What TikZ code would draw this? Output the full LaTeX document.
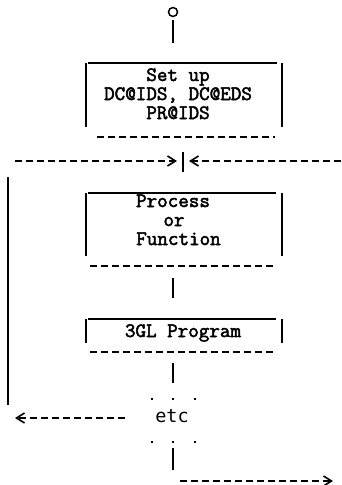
\documentclass[tikz,border=0pt]{standalone}
\usepackage{fontspec}
\newfontfamily\boxfont{Latin Modern Mono}[FakeBold=2.4]
\newfontfamily\etcfont{DejaVu Sans Mono}
\usetikzlibrary{arrows.meta}

\begin{document}
\begin{tikzpicture}[x=1pt,y=-1pt,
  bar/.style={line width=1.6pt},
  rule/.style={line width=1.5pt},
  dashrule/.style={line width=1.6pt, dash pattern=on 7pt off 4pt},
  flow/.style={dashrule, -{Straight Barb[length=8pt,width=10pt]}},
  txt/.style={font=\boxfont\fontsize{20.5}{20.5}\selectfont, anchor=base, inner sep=0pt},
  etctxt/.style={font=\etcfont\fontsize{18.5}{18.5}\selectfont, anchor=base, inner sep=0pt},
  dot/.style={fill, inner sep=0pt, minimum size=2.4pt, shape=rectangle}
]
\useasboundingbox (0,0) rectangle (341,485);

% entry point
\node[circle, draw, line width=1.5pt, minimum size=9pt, inner sep=0pt] (start) at (173,12) {};
\coordinate (s1) at (173,20);
\coordinate (s2) at (173,43);
\draw[bar] (s1) -- (s2);

% box: set up
\draw[rule] (88,63) -- (277,63);
\draw[bar] (86,63) -- (86,127);
\draw[bar] (282,63) -- (282,127);
\node[txt] (setup1) at (178,81) {Set up};
\node[txt] (setup2) at (178,100) {DC@IDS, DC@EDS};
\node[txt] (setup3) at (178,119) {PR@IDS};
\draw[dashrule] (97,137) -- (275,137);

% loop junction
\coordinate (jl) at (15,161);
\coordinate (jlt) at (177,161);
\coordinate (jr) at (341,161);
\coordinate (jrt) at (189,161);
\draw[flow] (jl) -- (jlt);
\draw[flow] (jr) -- (jrt);
\draw[bar] (183,152) -- (183,172);

% loop return line
\coordinate (lt) at (8,177);
\coordinate (lb) at (8,405);
\draw[bar] (lt) -- (lb);

% box: process or function
\draw[rule] (88,193) -- (276,193);
\draw[bar] (86,193) -- (86,256);
\draw[bar] (282,193) -- (282,256);
\node[txt] (proc1) at (173,207) {Process};
\node[txt] (proc2) at (174,226) {or};
\node[txt] (proc3) at (178.5,245) {Function};
\draw[dashrule] (90,266) -- (275,266);

\coordinate (p1) at (173,278);
\coordinate (p2) at (173,298);
\draw[bar] (p1) -- (p2);

% box: 3GL program
\draw[rule] (88,319) -- (276,319);
\draw[bar] (86,319) -- (86,343);
\draw[bar] (282,319) -- (282,343);
\node[txt] (prog) at (183,337) {3GL Program};
\draw[dashrule] (90,352) -- (275,352);

\coordinate (q1) at (173,363);
\coordinate (q2) at (173,383);
\draw[bar] (q1) -- (q2);

% continuation
\foreach \x/\n in {152/a,173/b,195/c} {
  \node[dot] (du\n) at (\x,399) {};
  \node[dot] (dd\n) at (\x,442) {};
}
\node[etctxt] (etc) at (172,422) {etc};
\coordinate (el) at (125,418);
\coordinate (elt) at (15,418);
\draw[flow] (el) -- (elt);

\coordinate (r1) at (173,448);
\coordinate (r2) at (173,470);
\draw[bar] (r1) -- (r2);
\coordinate (ol) at (180,481);
\coordinate (ort) at (333,481);
\draw[flow] (ol) -- (ort);
\end{tikzpicture}
\end{document}
